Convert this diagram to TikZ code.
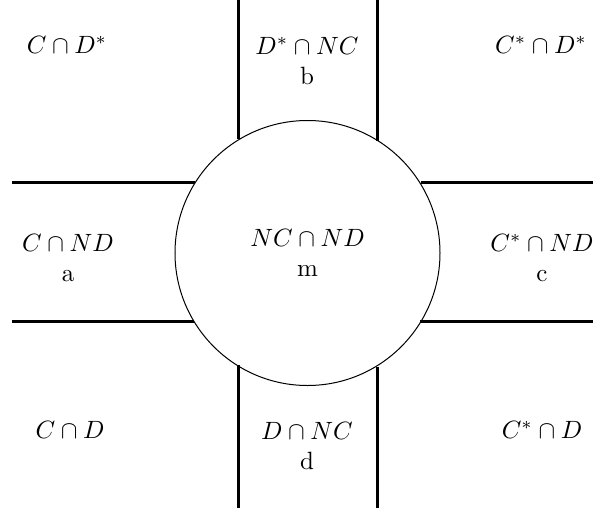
\documentclass[tikz,border=0pt]{standalone}
\begin{document}
\begin{tikzpicture}[x=0.4pt,y=-0.4pt,
  wall/.style={line width=1.2pt},
  region/.style={align=center, inner sep=0pt}]
\useasboundingbox (0,0) rectangle (594,514);
\node[draw, circle, line width=0.4pt, minimum size=106pt, inner sep=0pt, outer sep=0pt,
      align=center] (m) at (307.5,253) {$NC\cap ND$\\ m};
% free ends
\coordinate (tl) at (238.3,0);
\coordinate (tr) at (377.3,0);
\coordinate (bl) at (238.3,508);
\coordinate (br) at (377.3,508);
\coordinate (lt) at (12,182.7);
\coordinate (lb) at (12,321);
\coordinate (rt) at (593,182.7);
\coordinate (rb) at (593,321);
\draw[wall] (tl) -- (tl |- m.121.5);
\draw[wall] (tr) -- (tr |- m.58.5);
\draw[wall] (bl) -- (bl |- m.238.5);
\draw[wall] (br) -- (br |- m.301.5);
\draw[wall] (lt) -- (lt -| m.148.2);
\draw[wall] (lb) -- (lb -| m.211.8);
\draw[wall] (rt) -- (rt -| m.31.8);
\draw[wall] (rb) -- (rb -| m.328.2);
% regions
\node[region] (cds) at (67,45) {$C\cap D^*$};
\node[region] (b) at (307,61) {$D^*\cap NC$\\ b};
\node[region] (csds) at (541,45) {$C^*\cap D^*$};
\node[region] (a) at (68,258) {$C\cap ND$\\ a};
\node[region] (c) at (542,258) {$C^*\cap ND$\\ c};
\node[region] (cd) at (70,430) {$C\cap D$};
\node[region] (d) at (307,446) {$D\cap NC$\\ d};
\node[region] (csd) at (542,430) {$C^*\cap D$};
\end{tikzpicture}
\end{document}
